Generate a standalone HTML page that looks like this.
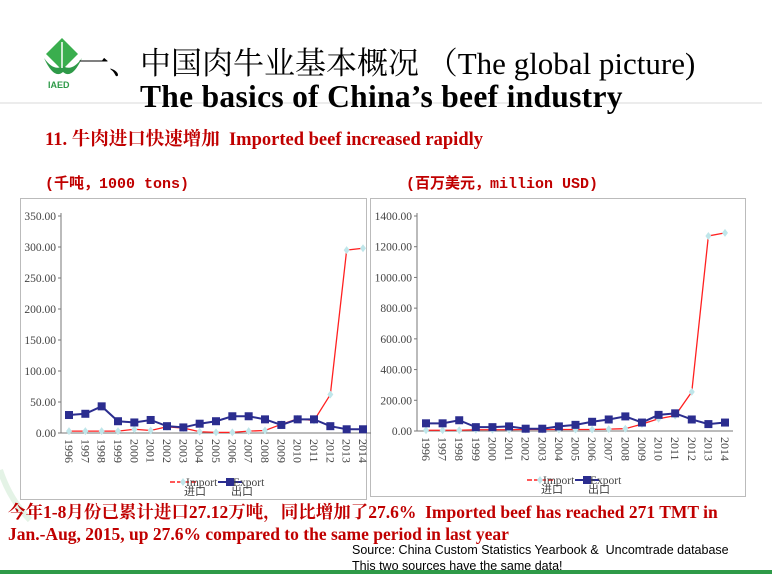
<!DOCTYPE html>
<html><head><meta charset="utf-8"><style>
body{margin:0;width:772px;height:574px;overflow:hidden;background:#fff;position:relative;font-family:"Liberation Serif","Noto Serif CJK SC",serif}
.a{position:absolute;white-space:nowrap}
</style></head><body>
<svg width="772" height="574" style="position:absolute;left:0;top:0" id="s">
<path d="M0 470 Q10 500 30 520" stroke="#e4f3e6" stroke-width="6" fill="none"/>
<line x1="0" y1="103" x2="762" y2="103" stroke="#d8d8d8" stroke-width="1"/>
<rect x="0" y="570" width="772" height="4" fill="#2e9a48"/>
<!-- logo -->
<path d="M62 38 L78 54 L62 70 L46 54 Z" fill="#3aae4e"/>
<path d="M44 58 Q54 80 63 72 Q72 80 82 58 Q72 72 63 66 Q54 72 44 58Z" fill="#2e9a48"/>
<line x1="62" y1="42" x2="62" y2="68" stroke="#fff" stroke-width="1.5"/>
<text x="48" y="88" font-family="Liberation Sans" font-weight="bold" font-size="9" fill="#2e9a48">IAED</text>
<rect x="20.5" y="198.5" width="346" height="301" fill="#fff" stroke="#bbb"/>
<rect x="370.5" y="198.5" width="375" height="298" fill="#fff" stroke="#bbb"/>
<g id="g"></g>
</svg>
<div class="a" style="left:78px;top:38px;font-size:31px;font-family:'Liberation Serif','Noto Serif CJK SC',serif;color:#000">一、中国肉牛业基本概况 （The global picture)</div>
<div class="a" style="left:140px;top:79px;font-size:31.5px;font-weight:bold;letter-spacing:0.3px">The basics of China’s beef industry</div>
<div class="a" style="left:45px;top:125px;font-size:18.5px;font-weight:bold;color:#c00000">11. 牛肉进口快速增加 &nbsp;Imported beef increased rapidly</div>
<div class="a" style="left:45px;top:172px;font-size:15px;font-weight:bold;color:#c00000;font-family:'Liberation Mono','Noto Sans CJK SC',monospace">(千吨，1000 tons)</div>
<div class="a" style="left:406px;top:172px;font-size:15px;font-weight:bold;color:#c00000;font-family:'Liberation Mono','Noto Sans CJK SC',monospace">(百万美元，million USD)</div>
<div class="a" style="left:8px;top:501px;font-size:17.5px;font-weight:bold;color:#c00000;line-height:22px">今年1-8月份已累计进口27.12万吨，同比增加了27.6% &nbsp;Imported beef has reached 271 TMT in<br>Jan.-Aug, 2015, up 27.6% compared to the same period in last year</div>
<div class="a" style="left:352px;top:542px;font-size:12.5px;font-family:'Liberation Sans',sans-serif;line-height:16px;color:#000">Source: China Custom Statistics Yearbook &amp; &nbsp;Uncomtrade database<br>This two sources have the same data!</div>
<script>
const NS="http://www.w3.org/2000/svg",g=document.getElementById('g');
function el(t,a,txt){const e=document.createElementNS(NS,t);for(const k in a)e.setAttribute(k,a[k]);if(txt!=null)e.textContent=txt;g.appendChild(e);return e;}
function chart(o){
 const X=i=>o.x0+i*(o.x1-o.x0)/18, Y=v=>o.y0-v*(o.y0-o.yt)/o.max;
 el('line',{x1:o.ax,y1:o.yt-3,x2:o.ax,y2:o.y0,stroke:'#777'});
 el('line',{x1:o.ax,y1:o.y0,x2:o.x1+8,y2:o.y0,stroke:'#777'});
 for(let v=0;v<=o.max;v+=o.step){const y=Y(v);el('line',{x1:o.ax-3,y1:y,x2:o.ax,y2:y,stroke:'#777'});
  el('text',{x:o.ax-5,y:y+4,'text-anchor':'end','font-size':11.5,fill:'#444','font-family':'Liberation Serif'},v.toFixed(2));}
 for(let i=0;i<19;i++){const x=X(i);el('text',{x:0,y:0,transform:`translate(${x-4},${o.y0+6}) rotate(90)`,'font-size':12,fill:'#444','font-family':'Liberation Serif'},1996+i);}
 el('polyline',{points:o.imp.map((v,i)=>X(i)+','+Y(v)).join(' '),fill:'none',stroke:'#ff2020','stroke-width':1.3});
 o.imp.forEach((v,i)=>el('path',{d:`M${X(i)} ${Y(v)-4}l3 4l-3 4l-3 -4z`,fill:'#bfe6ea'}));
 el('polyline',{points:o.exp.map((v,i)=>X(i)+','+Y(v)).join(' '),fill:'none',stroke:'#2b2d8f','stroke-width':2});
 o.exp.forEach((v,i)=>el('rect',{x:X(i)-4,y:Y(v)-4,width:8,height:8,fill:'#2b2d8f'}));
 const lx=o.lx,ly=o.ly;
 el('line',{x1:lx,y1:ly,x2:lx+26,y2:ly,stroke:'#ff2020','stroke-width':1.5,'stroke-dasharray':'5,2'});
 el('path',{d:`M${lx+13} ${ly-4}l3 4l-3 4l-3 -4z`,fill:'#bfe6ea'});
 el('text',{x:lx+16,y:ly+4,'font-size':11.5,fill:'#444'},'Import');
 el('line',{x1:lx+48,y1:ly,x2:lx+72,y2:ly,stroke:'#2b2d8f','stroke-width':2});
 el('rect',{x:lx+56,y:ly-4,width:8,height:8,fill:'#2b2d8f'});
 el('text',{x:lx+63,y:ly+4,'font-size':11.5,fill:'#444'},'Export');
 el('text',{x:lx+14,y:ly+13,'font-size':11,fill:'#444','font-family':'Noto Sans CJK SC'},'进口');
 el('text',{x:lx+61,y:ly+13,'font-size':11,fill:'#444','font-family':'Noto Sans CJK SC'},'出口');
}
chart({x0:69,x1:363,ax:61,y0:433,yt:216,max:350,step:50,lx:170,ly:482,
 imp:[3,3,3,3,6,4,10,8,2,1,1,3,4,14,23,20,62,295,298],
 exp:[29,31,43,19,17,21,11,9,15,19,27,27,22,13,22,22,11,6,6]});
chart({x0:426,x1:725,ax:417,y0:431,yt:216,max:1400,step:200,lx:527,ly:480,
 imp:[5,5,5,8,8,8,10,10,10,10,10,12,15,45,80,100,255,1270,1290],
 exp:[50,50,70,25,25,30,15,15,30,40,60,75,95,55,105,115,75,45,55]});
</script>
</body></html>
